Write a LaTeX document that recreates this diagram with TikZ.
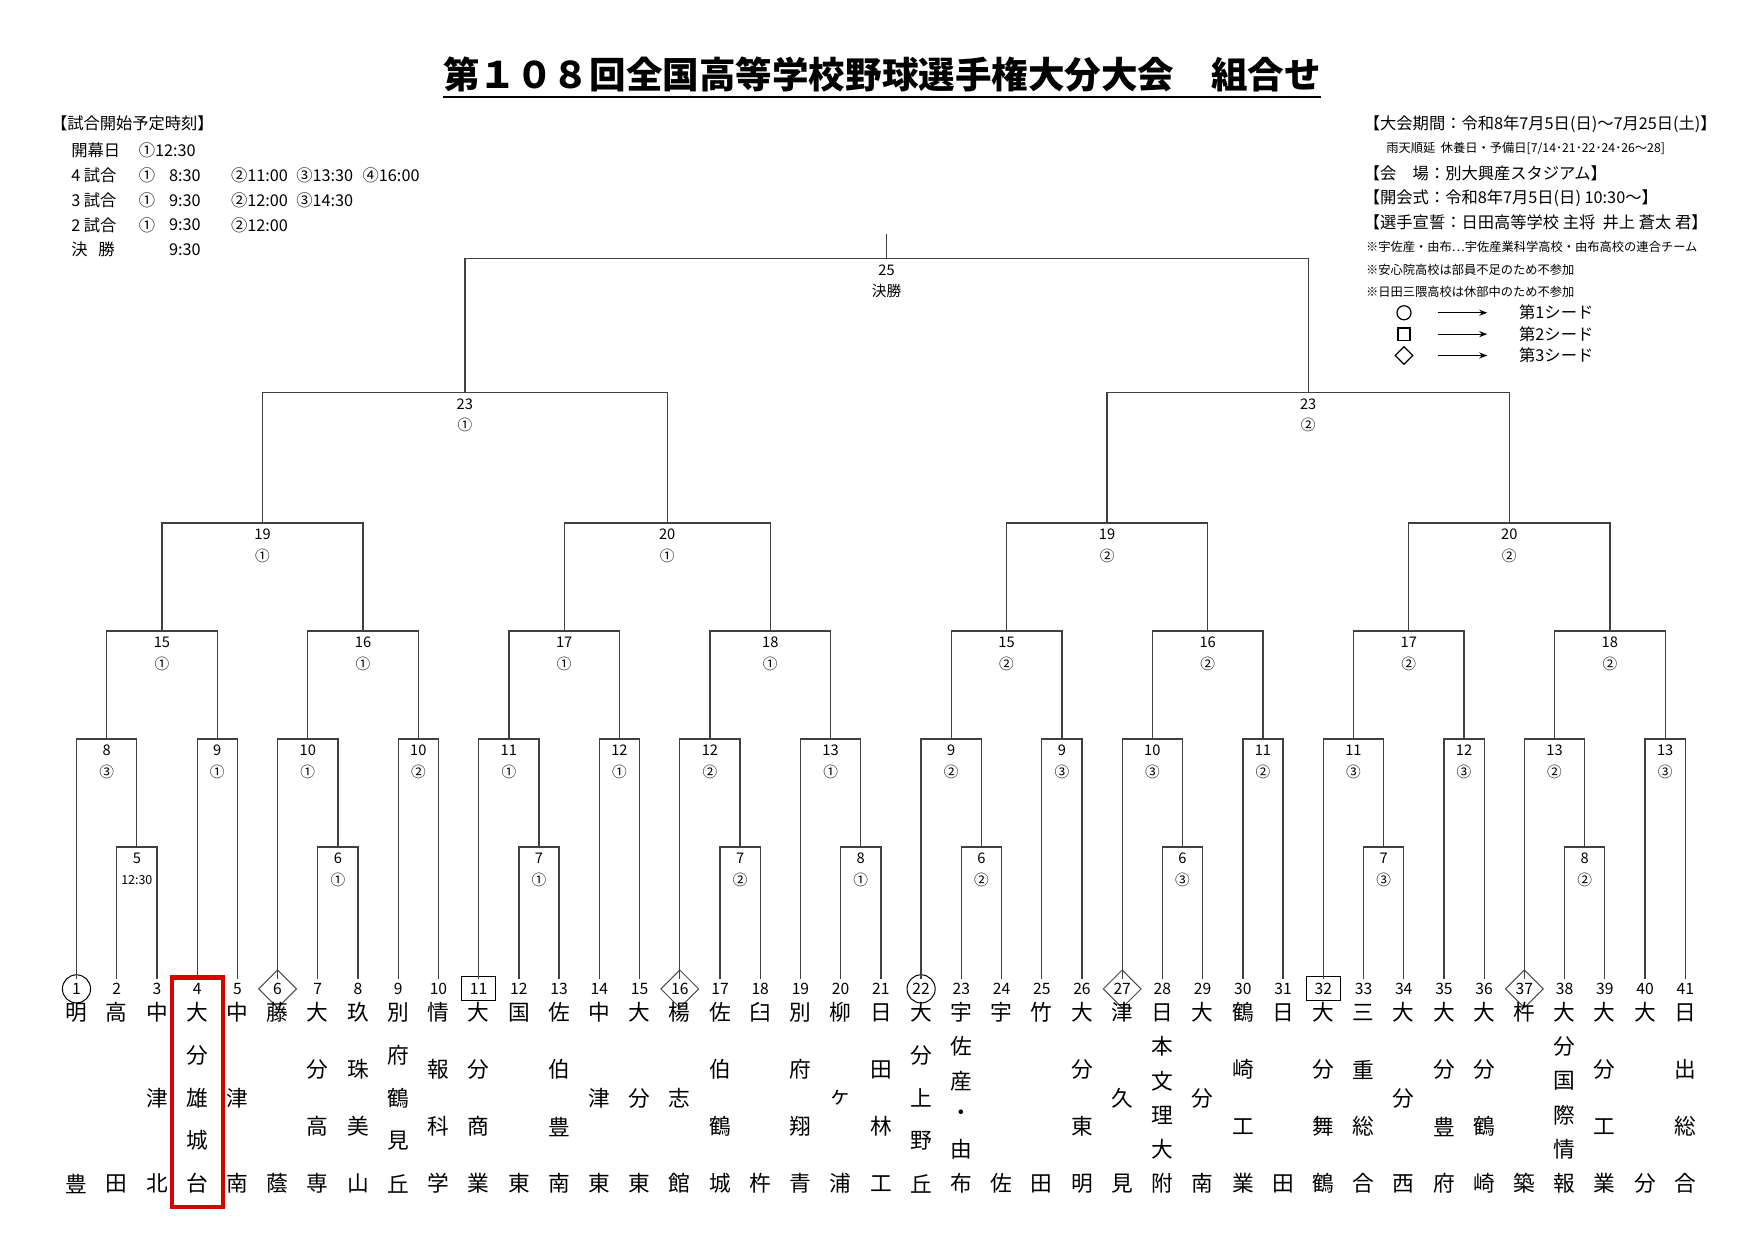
\documentclass[tikz,border=0pt]{standalone}
\usepackage{fontspec}
\setmainfont{Noto Sans CJK JP}
\usetikzlibrary{calc,shapes.geometric,arrows.meta}
\tikzset{
 br/.style={draw=black!75,line width=0.65pt},
 mnum/.style={font=\fontsize{7.3}{8}\selectfont,inner sep=0pt},
 lnum/.style={font=\fontsize{7.8}{9}\selectfont,inner sep=0pt},
 tname/.style={font=\fontsize{10.8}{11}\selectfont,inner sep=0pt},
 info/.style={font=\fontsize{8.1}{9}\selectfont,anchor=west,inner sep=0pt},
 small/.style={font=\fontsize{6.1}{7}\selectfont,anchor=west,inner sep=0pt},
}
\newcommand\mt[6]{%
 \path ($(#2)!0.5!(#3)$) coordinate (tmp);
 \coordinate (h#1) at (0,#4);
 \coordinate (#1) at (tmp |- h#1);
 \draw[br] (#2) |- (#1) -| (#3);
 \node[mnum] (l#1) at ($(#1)+(0,10)$) {#5};
 \node[mnum] (s#1) at ($(#1)+(0,29)$) {#6};
}
\newcommand\team[2]{%
 \foreach \c [count=\k] in {#2} {\xdef\nn{\k}}%
 \foreach \c [count=\k] in {#2} {\node[tname] (c#1-\k) at ({68+(#1-1)*35.75},{900+(\k-1)*152/(\nn-1)}) {\c};}%
}
\begin{document}
\begin{tikzpicture}[x=0.56pt,y=-0.56pt]
\useasboundingbox (0,0) rectangle (1560,1102);
% title
\node[font=\fontsize{18.2}{19}\selectfont\bfseries,inner sep=0pt] (title) at (784,66) {第１０８回全国高等学校野球選手権大分大会　組合せ};
\draw[line width=0.9pt] ($(title.south west)+(0,4)$) -- ($(title.south east)+(0,4)$);
% top-left
\node[info] (h0) at (45,110) {【試合開始予定時刻】};
\node[info] (h1) at (63,134) {開幕日};
\node[info] (h1b) at (123,134) {①12:30};
\node[info] (h2) at (63,156) {4 試合};
\node[info] (h2a) at (123,156) {①};
\node[info] (h2b) at (150,156) {8:30};
\node[info] (h2c) at (205,156) {②11:00};
\node[info] (h2d) at (263,156) {③13:30};
\node[info] (h2e) at (322,156) {④16:00};
\node[info] (h3) at (63,178) {3 試合};
\node[info] (h3a) at (123,178) {①};
\node[info] (h3b) at (150,178) {9:30};
\node[info] (h3c) at (205,178) {②12:00};
\node[info] (h3d) at (263,178) {③14:30};
\node[info] (h4) at (63,200) {2 試合};
\node[info] (h4a) at (123,200) {①};
\node[info] (h4b) at (150,200) {9:30};
\node[info] (h4c) at (205,200) {②12:00};
\node[info] (h5) at (63,222) {決\ \ \ 勝};
\node[info] (h5b) at (150,222) {9:30};
% top-right
\node[info] (r1) at (1212,110) {【大会期間：令和8年7月5日(日)〜7月25日(土)】};
\node[small] (r2) at (1232,132) {雨天順延\ \ 休養日・予備日[7/14･21･22･24･26〜28]};
\node[info] (r3) at (1212,154) {【会\quad 場：別大興産スタジアム】};
\node[info] (r4) at (1212,176) {【開会式：令和8年7月5日(日) 10:30〜】};
\node[info] (r5) at (1212,198) {【選手宣誓：日田高等学校 主将\ \ 井上 蒼太 君】};
\node[small] (r6) at (1214,219) {※宇佐産・由布…宇佐産業科学高校・由布高校の連合チーム};
\node[small] (r7) at (1214,240) {※安心院高校は部員不足のため不参加};
\node[small] (r8) at (1214,259) {※日田三隈高校は休部中のため不参加};
\node[draw,circle,minimum size=7pt,inner sep=0pt,line width=0.6pt] (g1) at (1248,278) {};
\node[draw,rectangle,minimum size=6pt,inner sep=0pt,line width=0.6pt] (g2) at (1248,297) {};
\node[draw,diamond,minimum size=9pt,inner sep=0pt,line width=0.6pt] (g3) at (1248,316) {};
\coordinate (a1s) at (1278,278); \coordinate (a1e) at (1322,278);
\coordinate (a2s) at (1278,297); \coordinate (a2e) at (1322,297);
\coordinate (a3s) at (1278,316); \coordinate (a3e) at (1322,316);
\foreach \i in {1,2,3} \draw[-{Stealth[length=4pt]},line width=0.6pt] (a\i s) -- (a\i e);
\node[info] (g1t) at (1350,278) {第1シード};
\node[info] (g2t) at (1350,297) {第2シード};
\node[info] (g3t) at (1350,316) {第3シード};
% leaves
\foreach \i in {1,...,41} {
 \coordinate (t\i) at ({68+(\i-1)*35.75},870);
 \node[lnum] (n\i) at ({68+(\i-1)*35.75},879) {\i};
}
\foreach \i in {1,22} \node[draw,circle,minimum size=14pt,inner sep=0pt,line width=0.5pt] at (n\i) {};
\foreach \i in {6,16,27,37} \node[draw=black!70,diamond,minimum size=19pt,inner sep=0pt,line width=0.5pt] at (n\i) {};
\foreach \i in {11,32} \node[draw,rectangle,minimum width=17pt,minimum height=12pt,inner sep=0pt,line width=0.5pt] at (n\i) {};
% left half
\mt{a5}{t2}{t3}{753}{5}{\fontsize{6.2}{7}\selectfont 12:30}
\mt{a8}{t1}{a5}{657}{8}{③}
\mt{a9}{t4}{t5}{657}{9}{①}
\mt{a15}{a8}{a9}{561}{15}{①}
\mt{a6}{t7}{t8}{753}{6}{①}
\mt{a10}{t6}{a6}{657}{10}{①}
\mt{a10b}{t9}{t10}{657}{10}{②}
\mt{a16}{a10}{a10b}{561}{16}{①}
\mt{a19}{a15}{a16}{465}{19}{①}
\mt{a7}{t12}{t13}{753}{7}{①}
\mt{a11}{t11}{a7}{657}{11}{①}
\mt{a12}{t14}{t15}{657}{12}{①}
\mt{a17}{a11}{a12}{561}{17}{①}
\mt{a7b}{t17}{t18}{753}{7}{②}
\mt{a12b}{t16}{a7b}{657}{12}{②}
\mt{a8b}{t20}{t21}{753}{8}{①}
\mt{a13}{t19}{a8b}{657}{13}{①}
\mt{a18}{a12b}{a13}{561}{18}{①}
\mt{a20}{a17}{a18}{465}{20}{①}
\mt{a23}{a19}{a20}{349}{23}{①}
% right half
\mt{b6}{t23}{t24}{753}{6}{②}
\mt{b9}{t22}{b6}{657}{9}{②}
\mt{b9b}{t25}{t26}{657}{9}{③}
\mt{b15}{b9}{b9b}{561}{15}{②}
\mt{b6b}{t28}{t29}{753}{6}{③}
\mt{b10}{t27}{b6b}{657}{10}{③}
\mt{b11}{t30}{t31}{657}{11}{②}
\mt{b16}{b10}{b11}{561}{16}{②}
\mt{b19}{b15}{b16}{465}{19}{②}
\mt{b7}{t33}{t34}{753}{7}{③}
\mt{b11b}{t32}{b7}{657}{11}{③}
\mt{b12}{t35}{t36}{657}{12}{③}
\mt{b17}{b11b}{b12}{561}{17}{②}
\mt{b8}{t38}{t39}{753}{8}{②}
\mt{b13}{t37}{b8}{657}{13}{②}
\mt{b13b}{t40}{t41}{657}{13}{③}
\mt{b18}{b13}{b13b}{561}{18}{②}
\mt{b20}{b17}{b18}{465}{20}{②}
\mt{b23}{b19}{b20}{349}{23}{②}
\mt{f}{a23}{b23}{230}{25}{決勝}
\coordinate (ftop) at ($(f)+(0,-22)$);
\draw[br] (f) -- (ftop);
% team names
\team{1}{明,豊}
\team{2}{高,田}
\team{3}{中,津,北}
\team{4}{大,分,雄,城,台}
\team{5}{中,津,南}
\team{6}{藤,蔭}
\team{7}{大,分,高,専}
\team{8}{玖,珠,美,山}
\team{9}{別,府,鶴,見,丘}
\team{10}{情,報,科,学}
\team{11}{大,分,商,業}
\team{12}{国,東}
\team{13}{佐,伯,豊,南}
\team{14}{中,津,東}
\team{15}{大,分,東}
\team{16}{楊,志,館}
\team{17}{佐,伯,鶴,城}
\team{18}{臼,杵}
\team{19}{別,府,翔,青}
\team{20}{柳,ヶ,浦}
\team{21}{日,田,林,工}
\team{22}{大,分,上,野,丘}
\team{23}{宇,佐,産,・,由,布}
\team{24}{宇,佐}
\team{25}{竹,田}
\team{26}{大,分,東,明}
\team{27}{津,久,見}
\team{28}{日,本,文,理,大,附}
\team{29}{大,分,南}
\team{30}{鶴,崎,工,業}
\team{31}{日,田}
\team{32}{大,分,舞,鶴}
\team{33}{三,重,総,合}
\team{34}{大,分,西}
\team{35}{大,分,豊,府}
\team{36}{大,分,鶴,崎}
\team{37}{杵,築}
\team{38}{大,分,国,際,情,報}
\team{39}{大,分,工,業}
\team{40}{大,分}
\team{41}{日,出,総,合}
% highlight
\draw[red!85!black,line width=2.2pt] (153,869) rectangle (198,1073);
\end{tikzpicture}
\end{document}
